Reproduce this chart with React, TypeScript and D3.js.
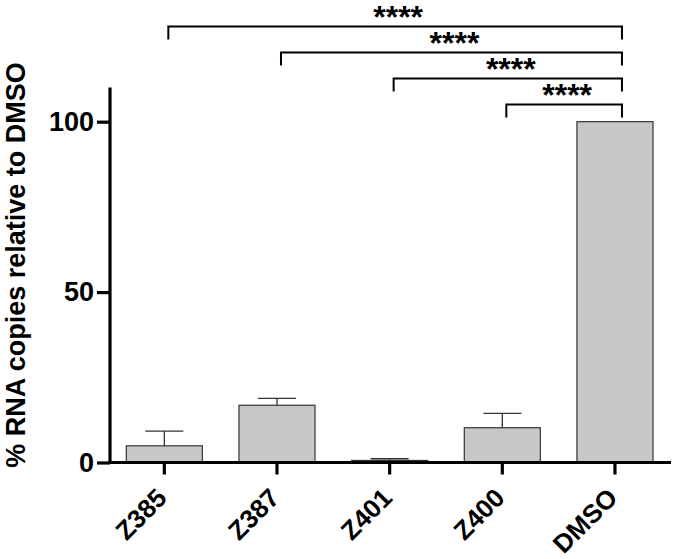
import React, { useEffect, useRef } from "react";
import * as d3 from "d3";

const categories = ["Z385", "Z387", "Z401", "Z400", "DMSO"];
const means = [4.9, 16.8, 0.6, 10.2, 100];
const errors = [4.3, 2.0, 0.5, 4.2, 0];
const yTicks = [0, 50, 100];
const comparisons = ["Z385", "Z387", "Z401", "Z400"]; // each vs DMSO
const sigLabels = ["****", "****", "****", "****"];

const W = 675;
const H = 559;

const App = () => {
  const svgRef = useRef<SVGSVGElement>(null);

  useEffect(() => {
    const svg = d3.select(svgRef.current);
    svg.selectAll("*").remove();

    const font = "'Liberation Sans', Arial, Helvetica, sans-serif";

    const x = d3.scaleBand().domain(categories).range([108, 671.3]).padding(0);
    const y = d3.scaleLinear().domain([0, 110]).range([462.5, 87.6]);
    const barW = x.bandwidth() * 0.675;
    const cx = (c: string) => (x(c) as number) + x.bandwidth() / 2;

    const chart = svg.append("g");

    // bars
    chart
      .selectAll(".bar")
      .data(categories)
      .join("rect")
      .attr("class", "bar")
      .attr("x", (d) => cx(d) - barW / 2)
      .attr("y", (d, i) => y(means[i]))
      .attr("width", barW)
      .attr("height", (d, i) => y(0) - y(means[i]))
      .attr("fill", "#c8c8c8")
      .attr("stroke", "#333")
      .attr("stroke-width", 1.2);

    // error bars (upper only)
    const errG = chart
      .selectAll(".err")
      .data(categories.filter((c, i) => errors[i] > 0))
      .join("g")
      .attr("class", "err");
    const errTop = (d: string) => {
      const i = categories.indexOf(d);
      return y(means[i] + errors[i]);
    };
    errG
      .append("line")
      .attr("x1", (d) => cx(d))
      .attr("x2", (d) => cx(d))
      .attr("y1", (d) => y(means[categories.indexOf(d)]))
      .attr("y2", errTop)
      .attr("stroke", "#333")
      .attr("stroke-width", 1.3);
    errG
      .append("line")
      .attr("x1", (d) => cx(d) - barW / 4)
      .attr("x2", (d) => cx(d) + barW / 4)
      .attr("y1", errTop)
      .attr("y2", errTop)
      .attr("stroke", "#333")
      .attr("stroke-width", 1.3);

    // y axis
    const yAxis = d3.axisLeft(y).tickValues(yTicks).tickSize(13).tickPadding(3);
    const yG = chart.append("g").attr("transform", "translate(110,0)").call(yAxis);
    yG.select(".domain").attr("stroke", "#000").attr("stroke-width", 3.2)
      .attr("d", `M0,${y(110)}V${y(0) + 1.5}`);
    yG.selectAll(".tick line").attr("stroke", "#000").attr("stroke-width", 3.2);
    yG.selectAll(".tick text")
      .attr("font-family", font)
      .attr("font-weight", "bold")
      .attr("font-size", 27)
      .attr("fill", "#000");

    // x axis
    const xAxis = d3.axisBottom(x).tickSize(12).tickFormat(() => "");
    const xG = chart.append("g").attr("transform", `translate(0,${y(0)})`).call(xAxis);
    xG.select(".domain").attr("stroke", "#000").attr("stroke-width", 3.2)
      .attr("d", "M108.5,0H671");
    xG.selectAll(".tick line").attr("stroke", "#000").attr("stroke-width", 3.2);

    chart
      .selectAll(".xlabel")
      .data(categories)
      .join("text")
      .attr("class", "xlabel")
      .attr("transform", (d) => `translate(${cx(d) + 4},${y(0) + 37}) rotate(-45)`)
      .attr("text-anchor", "end")
      .attr("font-family", font)
      .attr("font-weight", "bold")
      .attr("font-size", 26)
      .text((d) => d);

    // y title
    svg
      .append("text")
      .attr("transform", `translate(25,265) rotate(-90)`)
      .attr("text-anchor", "middle")
      .attr("font-family", font)
      .attr("font-weight", "bold")
      .attr("font-size", 27)
      .text("% RNA copies relative to DMSO");

    // significance brackets
    const rightX = cx("DMSO") + 7;
    const nB = comparisons.length;
    comparisons.forEach((c, i) => {
      const top = 104.5 - (nB - 1 - i) * 26;
      const leftX = cx(c) + 4;
      svg
        .append("path")
        .attr("d", `M${leftX},${top + 13}V${top}H${rightX}V${top + 13}`)
        .attr("fill", "none")
        .attr("stroke", "#000")
        .attr("stroke-width", 2);
      svg
        .append("text")
        .attr("x", (leftX + rightX) / 2 + 3)
        .attr("y", top + 1)
        .attr("text-anchor", "middle")
        .attr("font-family", font)
        .attr("font-weight", "bold")
        .attr("font-size", 32)
        .text(sigLabels[i]);
    });
  }, []);

  return (
    <svg
      ref={svgRef}
      width={W}
      height={H}
      style={{ position: "absolute", left: 0, top: 0, background: "#fff" }}
    />
  );
};

export default App;
